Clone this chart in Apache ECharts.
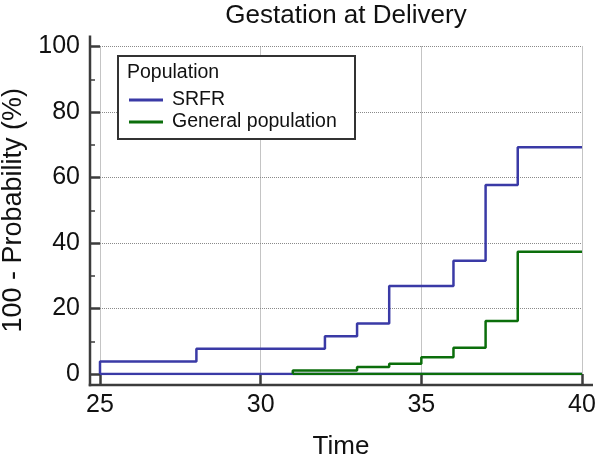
<!DOCTYPE html>
<html>
<head>
<meta charset="utf-8">
<script src="https://cdn.jsdelivr.net/npm/echarts@6/dist/echarts.min.js"></script>
<style>
html,body{margin:0;padding:0;background:#fff;}
#chart{width:596px;height:457px;}
</style>
</head>
<body>
<div id="chart"></div>
<script>
const chartTitle = 'Gestation at Delivery';
const xName = 'Time';
const yName = '100 - Probability (%)';
const legendTitle = 'Population';
const seriesNames = ['SRFR', 'General population'];

const srfrTimes = [25, 25, 28, 32, 33, 34, 36, 37, 38, 40];
const srfrValues = [0, 3.8, 7.7, 11.5, 15.4, 26.9, 34.6, 57.7, 69.2, 69.2];
const srfrBaseTimes = [25, 40];
const srfrBaseValues = [0, 0];

const genTimes = [31, 31, 33, 34, 35, 36, 37, 38, 40];
const genValues = [0, 1.1, 2.1, 3.1, 5.1, 8.0, 16.2, 37.3, 37.3];
const genBaseTimes = [31, 40];
const genBaseValues = [0, 0];

const xTicks = [25, 30, 35, 40];
const yTicks = [0, 20, 40, 60, 80, 100];

const blue = '#3a3aa6';
const green = '#0b6e0b';
const axisColor = '#3c3c3c';
const font = 'Liberation Sans, Arial, Helvetica, sans-serif';

function pairs(xs, ys) { return xs.map((x, i) => [x, ys[i]]); }

const chart = echarts.init(document.getElementById('chart'));
chart.setOption({
  animation: false,
  title: {
    text: chartTitle, left: 341, textAlign: 'center', top: -2,
    textStyle: { fontFamily: font, fontSize: 26, fontWeight: 'normal', color: '#111' }
  },
  grid: { left: 100, top: 46.5, width: 482, height: 327.5, containLabel: false, outerBoundsMode: 'none' },
  xAxis: {
    type: 'value', min: xTicks[0], max: xTicks[xTicks.length - 1], interval: 5,
    offset: 11,
    name: xName, nameLocation: 'middle', nameGap: 49,
    nameTextStyle: { fontFamily: font, fontSize: 26, color: '#111' },
    axisLine: { show: false, onZero: false },
    axisTick: { show: true, inside: true, length: 11, lineStyle: { color: axisColor, width: 2.5 } },
    axisLabel: { fontFamily: font, fontSize: 25, color: '#111', margin: 8, hideOverlap: false },
    splitLine: { show: true, lineStyle: { type: 'dotted', color: '#8a8a8a', width: 1 } }
  },
  yAxis: {
    type: 'value', min: yTicks[0], max: yTicks[yTicks.length - 1], interval: 20,
    offset: 10,
    name: yName, nameLocation: 'middle', nameGap: 63,
    nameTextStyle: { fontFamily: font, fontSize: 27, color: '#111' },
    axisLine: { show: false, onZero: false },
    axisTick: { show: true, inside: true, length: 10, lineStyle: { color: axisColor, width: 2.5 } },
    minorTick: { show: true, splitNumber: 2, length: 5, lineStyle: { color: axisColor, width: 1.5 } },
    axisLabel: { fontFamily: font, fontSize: 25, color: '#111', margin: 10 },
    splitLine: { show: true, lineStyle: { type: 'dotted', color: '#8a8a8a', width: 1 } }
  },
  legend: {
    data: seriesNames,
    orient: 'vertical', left: 124, top: 85,
    itemWidth: 34, itemHeight: 3, itemGap: 2,
    icon: 'rect',
    textStyle: { fontFamily: font, fontSize: 19.5, color: '#111', padding: [0, 0, 0, 4] },
    selectedMode: false
  },
  series: [
    { name: 'SRFR-base', type: 'line', data: pairs(srfrBaseTimes, srfrBaseValues), symbol: 'none',
      lineStyle: { color: blue, width: 2.5 }, itemStyle: { color: blue }, silent: true },
    { name: seriesNames[0], type: 'line', step: 'end', data: pairs(srfrTimes, srfrValues), symbol: 'none',
      lineStyle: { color: blue, width: 2.5 }, itemStyle: { color: blue } },
    { name: 'General-base', type: 'line', data: pairs(genBaseTimes, genBaseValues), symbol: 'none',
      lineStyle: { color: green, width: 2.5 }, itemStyle: { color: green }, silent: true },
    { name: seriesNames[1], type: 'line', step: 'end', data: pairs(genTimes, genValues), symbol: 'none',
      lineStyle: { color: green, width: 2.5 }, itemStyle: { color: green } }
  ]
});

// Axis frame lines (offset from the plot area and extended past the data range, as in the reference)
const p0 = chart.convertToPixel({ gridIndex: 0 }, [xTicks[0], yTicks[0]]);
const p1 = chart.convertToPixel({ gridIndex: 0 }, [xTicks[xTicks.length - 1], yTicks[yTicks.length - 1]]);
const axX = p0[0] - 10, axY = p0[1] + 11;
chart.setOption({
  graphic: [
    { type: 'line', shape: { x1: axX, y1: p1[1] - 11, x2: axX, y2: axY + 1.25 },
      style: { stroke: axisColor, lineWidth: 2.5 }, z: 10 },
    { type: 'line', shape: { x1: axX - 1.25, y1: axY, x2: p1[0] + 11, y2: axY },
      style: { stroke: axisColor, lineWidth: 2.5 }, z: 10 },
    { type: 'rect', shape: { x: 118, y: 56, width: 237, height: 83 },
      style: { fill: '#fff', stroke: '#333', lineWidth: 2 }, z: 0 },
    { type: 'text', x: 127, y: 63, style: { text: legendTitle, font: '19.5px ' + font, fill: '#111' }, z: 1 }
  ]
});
</script>
</body>
</html>
